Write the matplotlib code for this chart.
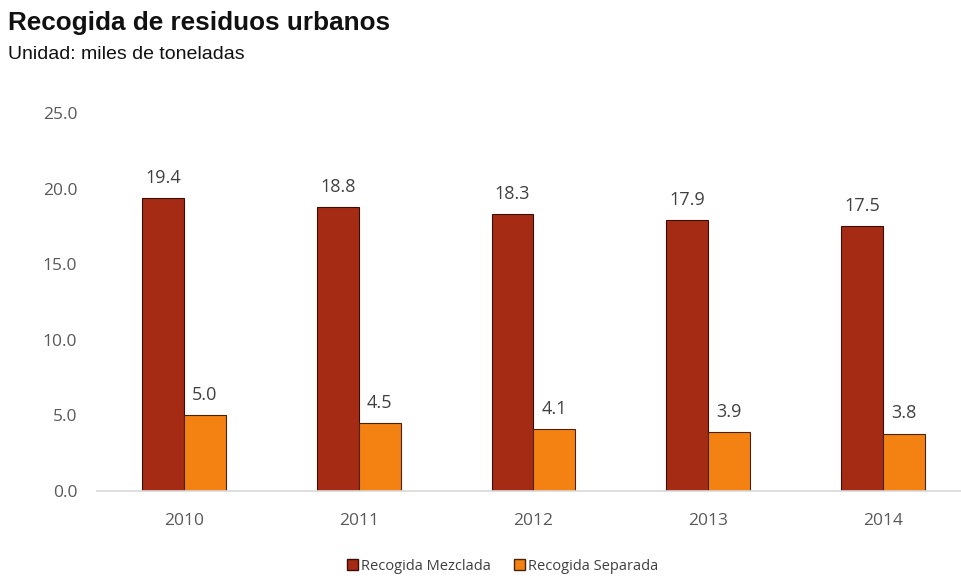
import numpy as np
import matplotlib.pyplot as plt
from matplotlib.patches import Patch

years = ['2010', '2011', '2012', '2013', '2014']
mezclada = [19.4, 18.8, 18.3, 17.9, 17.5]
separada = [5.0, 4.5, 4.1, 3.9, 3.8]

c_mez = '#A62B14'
c_sep = '#F38213'
gris = '#595959'

fig = plt.figure(figsize=(9.61, 5.76), dpi=100)
ax = fig.add_axes([96.6 / 961, 1 - 491 / 576, 1 - 96.6 / 961, (491 - 113) / 576])

x = np.arange(len(years))
w = 0.24
# mezclada a la izquierda del tick, separada a la derecha
b1 = ax.bar(x - w, mezclada, w, align='edge', color=c_mez, edgecolor='#3a0e06', linewidth=0.8)
b2 = ax.bar(x, separada, w, align='edge', color=c_sep, edgecolor='#4a2205', linewidth=0.8)

ax.bar_label(b1, fmt='%.1f', padding=8, fontsize=13, color='#404040', family='Open Sans')
ax.bar_label(b2, fmt='%.1f', padding=8, fontsize=13, color='#404040', family='Open Sans')

ax.set_ylim(0, 25)
ax.set_xlim(-0.5, -0.5 + 864.4 / 174.75)
ax.set_yticks(np.arange(0, 25.1, 5))
ax.set_yticklabels(['%.1f' % v for v in np.arange(0, 25.1, 5)])
ax.set_xticks(x)
ax.set_xticklabels(years)
for lab in ax.get_xticklabels() + ax.get_yticklabels():
    lab.set_family('Open Sans')
    lab.set_fontsize(12.5)
    lab.set_color(gris)
ax.tick_params(length=0)
ax.tick_params(axis='x', pad=16)
ax.tick_params(axis='y', pad=14)
for s in ['top', 'right', 'left']:
    ax.spines[s].set_visible(False)
ax.spines['bottom'].set_color('#d9d9d9')
ax.spines['bottom'].set_linewidth(1.2)

fig.text(8 / 961, 1 - 30 / 576, 'Recogida de residuos urbanos', fontsize=18.8,
         fontweight='bold', family='Liberation Sans', color='#111111')
fig.text(8 / 961, 1 - 59 / 576, 'Unidad: miles de toneladas', fontsize=14,
         family='Liberation Sans', color='#111111')

handles = [Patch(facecolor=c_mez, edgecolor='#3a0e06', label='Recogida Mezclada'),
           Patch(facecolor=c_sep, edgecolor='#4a2205', label='Recogida Separada')]
fig.legend(handles=handles, loc='center', bbox_to_anchor=(503 / 961, 1 - 566 / 576),
           ncol=2, frameon=False, prop={'family': 'Open Sans', 'size': 10.5},
           handlelength=0.75, handleheight=0.75, handletextpad=0.2, columnspacing=1.6,
           labelcolor='#404040')

fig.savefig('out.png', dpi=100)
